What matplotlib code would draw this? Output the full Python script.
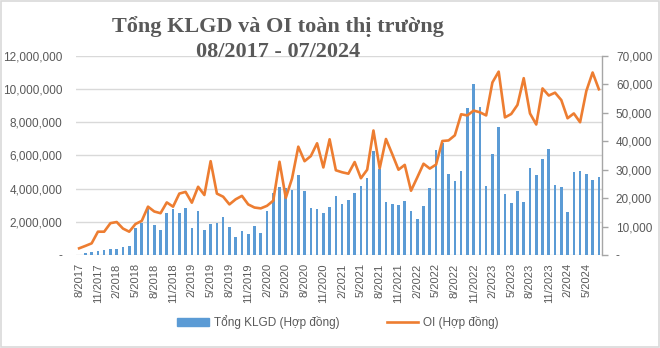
import matplotlib
matplotlib.use("Agg")
import matplotlib.pyplot as plt
from matplotlib.ticker import FuncFormatter, MultipleLocator
from matplotlib.patches import Rectangle, Patch
from matplotlib.lines import Line2D

# Monthly series, 8/2017 .. 7/2024
tick_labels = [
    "8/2017", "11/2017", "2/2018", "5/2018", "8/2018", "11/2018", "2/2019",
    "5/2019", "8/2019", "11/2019", "2/2020", "5/2020", "8/2020", "11/2020",
    "2/2021", "5/2021", "8/2021", "11/2021", "2/2022", "5/2022", "8/2022",
    "11/2022", "2/2023", "5/2023", "8/2023", "11/2023", "2/2024", "5/2024",
]

# Total traded volume (contracts)
volume = [
    30000, 100000, 180000, 260000, 300000, 340000, 380000, 480000, 520000,
    1600000, 1940000, 2750000, 1800000, 1500000, 2530000, 2770000, 2530000,
    2830000, 1600000, 2630000, 1500000, 1860000, 1940000, 2280000, 1680000,
    1080000, 1460000, 1250000, 1730000, 1300000, 2640000, 3750000, 4100000,
    4050000, 3900000, 4840000, 3850000, 2830000, 2750000, 2540000, 2890000,
    3560000, 3090000, 3310000, 3730000, 4150000, 4640000, 6270000, 5200000,
    3210000, 3050000, 3010000, 3250000, 2670000, 2150000, 2970000, 4030000,
    6330000, 6780000, 4870000, 4450000, 5050000, 8840000, 10340000, 8930000,
    4140000, 6120000, 7700000, 3650000, 3130000, 3840000, 3180000, 5230000,
    4830000, 5770000, 6380000, 4240000, 4110000, 2620000, 4990000, 5090000,
    4910000, 4550000, 4710000,
]

# Open interest (contracts)
open_interest = [
    2350, 3200, 4100, 8200, 8200, 11200, 11600, 9300, 8200, 10900, 12000,
    17000, 15300, 14700, 18500, 17000, 21600, 22200, 18400, 24000, 21100,
    33000, 21600, 20500, 17800, 19600, 20800, 17800, 16700, 16400, 17300,
    19100, 32800, 20100, 26900, 38100, 33000, 34800, 39300, 30800, 40700,
    29800, 29100, 28600, 32700, 27000, 30000, 43800, 30500, 40800, 35500,
    30000, 31700, 22600, 27300, 32100, 30400, 31800, 40100, 40300, 42100,
    49500, 49100, 50800, 50200, 49100, 60700, 64500, 48400, 49600, 52800,
    62200, 49800, 45900, 58600, 56100, 57100, 54500, 48100, 49800, 46700,
    57700, 64200, 58300,
]

BAR_COLOR = "#5B9BD5"
LINE_COLOR = "#ED7D31"
TEXT_COLOR = "#595959"
GRID_COLOR = "#D9D9D9"

plt.rcParams["font.family"] = ["Liberation Sans", "DejaVu Sans"]

fig = plt.figure(figsize=(6.6, 3.48), dpi=100)
fig.patch.set_facecolor("white")
ax = fig.add_axes([76 / 660, 1 - 255 / 348, (602 - 76) / 660, (255 - 56) / 348])
ax2 = ax.twinx()

x = list(range(len(volume)))
ax.bar(x, volume, width=0.42, color=BAR_COLOR, zorder=2)
ax2.plot(x, open_interest, color=LINE_COLOR, linewidth=1.9, zorder=3,
         solid_joinstyle="round")

ax.set_xlim(-0.5, len(volume) - 0.5)
ax.set_ylim(0, 12_000_000)
ax2.set_ylim(0, 70_000)
ax.yaxis.set_major_locator(MultipleLocator(2_000_000))
ax2.yaxis.set_major_locator(MultipleLocator(10_000))


def fmt(v, _pos):
    return "-" if v == 0 else f"{v:,.0f}"


ax.yaxis.set_major_formatter(FuncFormatter(fmt))
ax2.yaxis.set_major_formatter(FuncFormatter(fmt))

ax.grid(axis="y", color=GRID_COLOR, linewidth=1.0, zorder=0)
ax.set_axisbelow(True)

for a in (ax, ax2):
    for side in ("top", "left", "bottom", "right"):
        a.spines[side].set_visible(False)
ax2.spines["right"].set_visible(True)
ax2.spines["right"].set_color("#A6A6A6")
ax2.spines["right"].set_linewidth(1.0)

ax.tick_params(axis="y", length=0, pad=10, labelsize=8.5, labelcolor=TEXT_COLOR)
ax2.tick_params(axis="y", length=4, width=1.0, color="#A6A6A6", pad=6,
                labelsize=8.5, labelcolor=TEXT_COLOR)

ax.set_xticks(list(range(0, len(volume), 3)))
ax.set_xticklabels(tick_labels, rotation=90, fontsize=8, color=TEXT_COLOR)
ax.tick_params(axis="x", length=0, pad=6)

fig.text(278 / 660, 1 - 32 / 348, "Tổng KLGD và OI toàn thị trường",
         ha="center", va="baseline", fontsize=16, fontweight="bold",
         family=["Liberation Serif", "DejaVu Serif"], color=TEXT_COLOR)
fig.text(278 / 660, 1 - 57 / 348, "08/2017 - 07/2024",
         ha="center", va="baseline", fontsize=16, fontweight="bold",
         family=["Liberation Serif", "DejaVu Serif"], color=TEXT_COLOR)

handles = [
    Patch(facecolor=BAR_COLOR, edgecolor=BAR_COLOR),
    Line2D([0], [0], color=LINE_COLOR, linewidth=1.9),
]
fig.legend(handles, ["Tổng KLGD (Hợp đồng)", "OI (Hợp đồng)"],
           loc="center", bbox_to_anchor=(338 / 660, 1 - 322 / 348),
           ncol=2, frameon=False, fontsize=8.5, labelcolor=TEXT_COLOR,
           handlelength=2.7, handleheight=0.6, handletextpad=0.4,
           columnspacing=4.0)

fig.add_artist(Rectangle((0.001, 0.002), 0.997, 0.995, transform=fig.transFigure,
                         fill=False, edgecolor=GRID_COLOR, linewidth=1.2))

fig.savefig("out.png", dpi=100, facecolor="white")
